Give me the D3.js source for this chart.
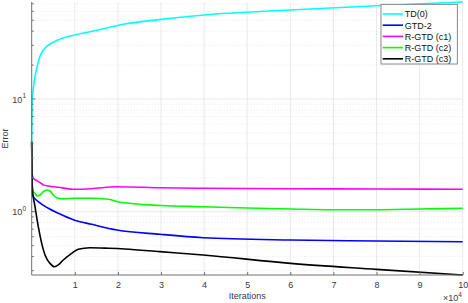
<!DOCTYPE html>
<html>
<head>
<meta charset="utf-8">
<script src="https://cdn.jsdelivr.net/npm/d3@7"></script>
<style>
  body { margin: 0; background: #fff; }
  svg { display: block; font-family: "Liberation Sans", Arial, sans-serif; }
</style>
</head>
<body>
<div id="chart"></div>
<script>
// iterations in units of 1e4, error values
var tdIter = [0, 0.014, 0.14, 0.27, 0.61, 1.0, 1.54, 2.16, 3, 4, 6, 8, 10];
var tdErr = [4.17, 10.0, 20.4, 27.2, 33.4, 37.0, 41.0, 46.3, 50.9, 55.7, 61.6, 67.3, 72.6];

var gtdIter = [0, 0.014, 0.037, 0.153, 0.385, 0.617, 0.98, 1.39, 1.98, 2.98, 3.98, 6.01, 8, 10];
var gtdErr = [4.17, 1.41, 1.36, 1.227, 1.072, 0.968, 0.844, 0.773, 0.688, 0.63, 0.588, 0.561, 0.55, 0.542];

var c1Iter = [0, 0.005, 0.037, 0.116, 0.193, 0.27, 0.385, 0.617, 1.0, 1.39, 1.97, 2.98, 3.98, 6.01, 8, 10];
var c1Err = [4.17, 2.25, 1.98, 1.89, 1.81, 1.73, 1.69, 1.646, 1.58, 1.6, 1.667, 1.633, 1.613, 1.6, 1.59, 1.58];

var c2Iter = [0, 0.005, 0.02, 0.037, 0.077, 0.13, 0.193, 0.27, 0.348, 0.425, 0.5, 0.58, 0.696, 1.0, 1.39, 1.78, 2.05, 2.98, 3.98, 5, 6.01, 7, 8, 9, 10];
var c2Err = [4.17, 1.91, 1.62, 1.505, 1.457, 1.378, 1.406, 1.505, 1.558, 1.527, 1.406, 1.331, 1.304, 1.315, 1.318, 1.288, 1.212, 1.135, 1.107, 1.078, 1.057, 1.042, 1.042, 1.057, 1.072];

var c3Iter = [0, 0.014, 0.077, 0.153, 0.232, 0.309, 0.425, 0.524, 0.617, 0.733, 0.928, 1.08, 1.35, 1.78, 2.16, 2.98, 3.98, 6.01, 8, 10];
var c3Err = [4.17, 1.61, 1.107, 0.736, 0.524, 0.413, 0.348, 0.325, 0.337, 0.373, 0.427, 0.464, 0.479, 0.474, 0.467, 0.442, 0.413, 0.348, 0.308, 0.274];

var seriesNames = ["TD(0)", "GTD-2", "R-GTD (c1)", "R-GTD (c2)", "R-GTD (c3)"];
var seriesColors = ["#00ffff", "#0000ff", "#ff00ff", "#00ff00", "#000000"];
var xTicks = [1, 2, 3, 4, 5, 6, 7, 8, 9, 10];
var yMajor = [1, 10];
var yMinor = [0.3, 0.4, 0.5, 0.6, 0.7, 0.8, 0.9, 2, 3, 4, 5, 6, 7, 8, 9, 20, 30, 40, 50, 60, 70];
var yLimits = [0.2744, 72.6];

var width = 468;
var height = 303;
var plotLeft = 31.7, plotRight = 462.7, plotTop = 2, plotBottom = 275;

var svg = d3.select("#chart")
  .append("svg")
  .attr("width", width)
  .attr("height", height);

var x = d3.scaleLinear().domain([0, 10]).range([plotLeft, plotRight]);
var y = d3.scaleLog().domain(yLimits).range([plotBottom, plotTop]);

// grid lines
var grid = svg.append("g");
grid.selectAll(".minor")
  .data(yMinor)
  .enter()
  .append("line")
  .attr("x1", plotLeft).attr("x2", plotRight)
  .attr("y1", function (d) { return y(d); })
  .attr("y2", function (d) { return y(d); })
  .attr("stroke", "#d6d6d6")
  .attr("stroke-width", 0.6)
  .attr("stroke-dasharray", "1,2");
grid.selectAll(".vmajor")
  .data(xTicks)
  .enter()
  .append("line")
  .attr("x1", function (d) { return x(d); })
  .attr("x2", function (d) { return x(d); })
  .attr("y1", plotTop).attr("y2", plotBottom)
  .attr("stroke", "#e3e3e3")
  .attr("stroke-width", 0.8);
grid.selectAll(".hmajor")
  .data(yMajor)
  .enter()
  .append("line")
  .attr("x1", plotLeft).attr("x2", plotRight)
  .attr("y1", function (d) { return y(d); })
  .attr("y2", function (d) { return y(d); })
  .attr("stroke", "#e3e3e3")
  .attr("stroke-width", 0.8);

// curves
var allIter = [tdIter, gtdIter, c1Iter, c2Iter, c3Iter];
var allErr = [tdErr, gtdErr, c1Err, c2Err, c3Err];

var line = d3.line()
  .x(function (d) { return x(d[0]); })
  .y(function (d) { return y(d[1]); })
  .curve(d3.curveMonotoneX);

for (var i = 0; i < allIter.length; i++) {
  var pts = allIter[i].map(function (v, j) { return [v, allErr[i][j]]; });
  svg.append("path")
    .datum(pts)
    .attr("fill", "none")
    .attr("stroke", seriesColors[i])
    .attr("stroke-width", 1.6)
    .attr("d", line);
}

// axes
var axisColor = "#707070";
var textColor = "#3a3a3a";

var xAxis = svg.append("g")
  .attr("transform", "translate(0," + plotBottom + ")")
  .call(d3.axisBottom(x).tickValues(xTicks).tickSizeInner(-3).tickSizeOuter(0).tickPadding(7));
xAxis.select(".domain").attr("stroke", axisColor).attr("d", "M" + plotLeft + ",0H" + plotRight);
xAxis.selectAll(".tick line").attr("stroke", axisColor);
xAxis.selectAll("text").attr("fill", textColor).style("font-size", "9px");

var yAxis = svg.append("g")
  .attr("transform", "translate(" + plotLeft + ",0)");
yAxis.append("line")
  .attr("x1", 0).attr("x2", 0)
  .attr("y1", plotTop).attr("y2", plotBottom)
  .attr("stroke", axisColor);
yAxis.selectAll(".mt")
  .data(yMinor)
  .enter()
  .append("line")
  .attr("x1", 0).attr("x2", 2)
  .attr("y1", function (d) { return y(d); })
  .attr("y2", function (d) { return y(d); })
  .attr("stroke", axisColor);
yAxis.selectAll(".Mt")
  .data(yMajor)
  .enter()
  .append("line")
  .attr("x1", 0).attr("x2", 3.5)
  .attr("y1", function (d) { return y(d); })
  .attr("y2", function (d) { return y(d); })
  .attr("stroke", axisColor);

yAxis.selectAll(".ylab")
  .data(yMajor)
  .enter()
  .append("text")
  .attr("x", -9.5)
  .attr("y", function (d) { return y(d) + 3.5; })
  .attr("text-anchor", "end")
  .attr("fill", textColor)
  .style("font-size", "9px")
  .text("10");
yAxis.selectAll(".yexp")
  .data(yMajor)
  .enter()
  .append("text")
  .attr("x", -9.3)
  .attr("y", function (d) { return y(d) - 1; })
  .attr("fill", textColor)
  .style("font-size", "6.5px")
  .text(function (d) { return Math.round(Math.log10(d)); });

// axis labels
svg.append("text")
  .attr("x", (plotLeft + plotRight) / 2)
  .attr("y", 299)
  .attr("text-anchor", "middle")
  .attr("fill", textColor)
  .style("font-size", "9px")
  .text("Iterations");

svg.append("text")
  .attr("transform", "translate(8," + ((plotTop + plotBottom) / 2) + ") rotate(-90)")
  .attr("text-anchor", "middle")
  .attr("fill", textColor)
  .style("font-size", "9px")
  .text("Error");

var mult = svg.append("text")
  .attr("x", 443)
  .attr("y", 301)
  .attr("fill", textColor)
  .style("font-size", "9px");
mult.append("tspan").text("\u00d710");
mult.append("tspan").attr("dy", -4).style("font-size", "6.5px").text("4");

// legend
var legend = svg.append("g");
legend.append("rect")
  .attr("x", 381).attr("y", 4.3)
  .attr("width", 76.3).attr("height", 59.7)
  .attr("fill", "#fff")
  .attr("stroke", "#6b6b6b")
  .attr("stroke-width", 0.8);

var entries = legend.selectAll(".entry")
  .data(seriesNames)
  .enter()
  .append("g")
  .attr("transform", function (d, i) { return "translate(0," + (14 + i * 11.2) + ")"; });
entries.append("line")
  .attr("x1", 382.7).attr("x2", 403)
  .attr("stroke", function (d, i) { return seriesColors[i]; })
  .attr("stroke-width", 1.6);
entries.append("text")
  .attr("x", 404.7)
  .attr("y", 3.3)
  .attr("fill", "#111")
  .style("font-size", "9px")
  .text(function (d) { return d; });
</script>
</body>
</html>
